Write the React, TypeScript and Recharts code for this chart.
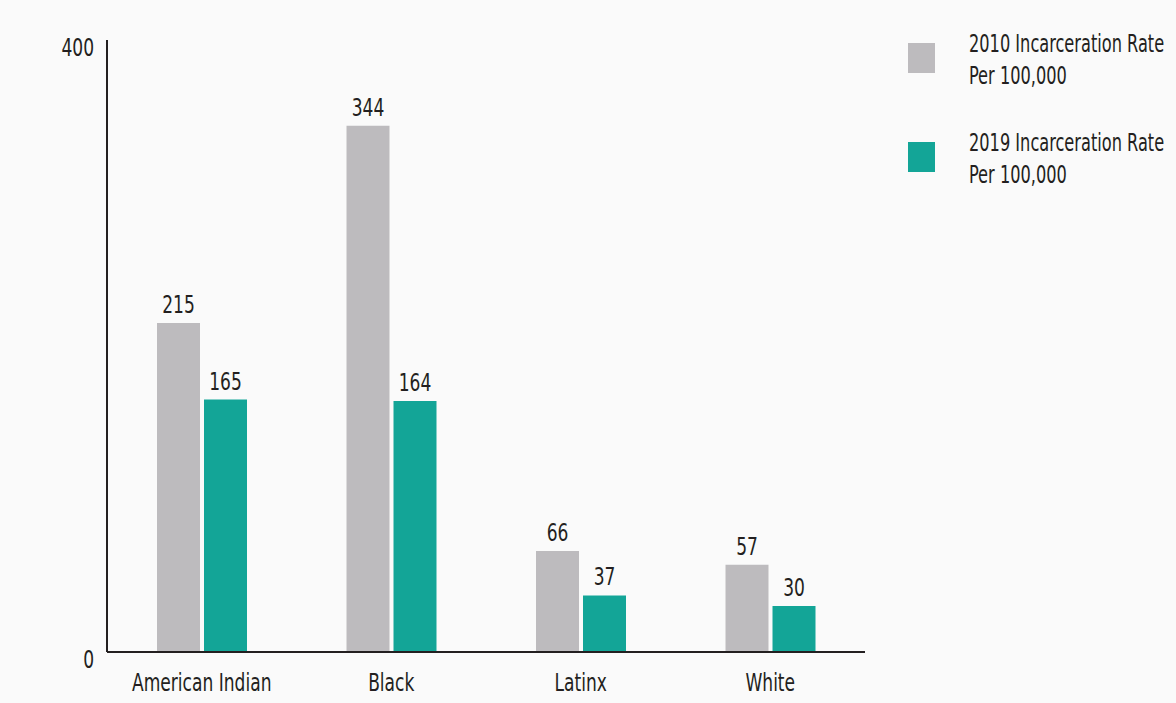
import { Bar, BarChart, LabelList, XAxis, YAxis } from 'recharts'

const categories = ['American Indian', 'Black', 'Latinx', 'White']
const rate2010 = [215, 344, 66, 57]
const rate2019 = [165, 164, 37, 30]
const yTicks = [0, 400]
const seriesNames = ['2010 Incarceration Rate', '2019 Incarceration Rate']

const FONT = '"DejaVu Sans Condensed", "Liberation Sans Narrow", sans-serif'
const SIZE = 25
const SQUEEZE = 0.76
const INK = '#231f20'
const GRAY = '#bdbbbe'
const TEAL = '#13a597'

const data = categories.map((c, i) => ({ name: c, y2010: rate2010[i], y2019: rate2019[i] }))

// narrow text, the original uses a condensed face
function Narrow({ x, y, anchor, dy, children }: any) {
  return (
    <g transform={`translate(${x},${y}) scale(${SQUEEZE},1)`}>
      <text x={0} y={0} dy={dy} textAnchor={anchor} fill={INK} fontSize={SIZE} fontFamily={FONT}>
        {children}
      </text>
    </g>
  )
}

function YTick({ x, y, payload }: any) {
  return <Narrow x={x} y={y + 7} anchor="end" dy="0.355em">{payload.value}</Narrow>
}

function XTick({ x, y, payload }: any) {
  return <Narrow x={x} y={y} anchor="middle" dy="0.71em">{payload.value}</Narrow>
}

function BarValue({ x, y, width, value }: any) {
  return <Narrow x={x + width / 2} y={y - 10} anchor="middle" dy={0}>{value}</Narrow>
}

function LegendBox() {
  const items = [
    { name: seriesNames[0], color: GRAY },
    { name: seriesNames[1], color: TEAL },
  ]
  return (
    <div style={{ position: 'absolute', left: 908, top: 28, fontFamily: FONT, fontSize: SIZE, color: INK }}>
      {items.map((it) => (
        <div key={it.name} style={{ position: 'relative', height: 99 }}>
          <div style={{ position: 'absolute', left: 0, top: 15, width: 27, height: 30, background: it.color }} />
          <div
            style={{
              position: 'absolute',
              left: 61,
              top: 0,
              lineHeight: '32px',
              whiteSpace: 'nowrap',
              transform: 'scaleX(0.72)',
              transformOrigin: 'left top',
            }}
          >
            {it.name}
            <br />
            Per 100,000
          </div>
        </div>
      ))}
    </div>
  )
}

export default function App() {
  return (
    <div style={{ position: 'fixed', left: 0, top: 0, width: 1176, height: 703, background: '#fafafa' }}>
      <BarChart
        width={1176}
        height={703}
        data={data}
        margin={{ top: 40, right: 311, bottom: 21, left: 27 }}
        barSize={43}
        barGap={4}
      >
        <XAxis
          dataKey="name"
          height={30}
          tickLine={false}
          tickSize={0}
          tickMargin={21}
          axisLine={{ stroke: INK, strokeWidth: 2 }}
          tick={<XTick />}
        />
        <YAxis
          width={80}
          domain={[0, 400]}
          ticks={yTicks}
          tickLine={false}
          tickSize={0}
          tickMargin={13}
          axisLine={{ stroke: INK, strokeWidth: 2 }}
          tick={<YTick />}
        />
        <Bar dataKey="y2010" name={seriesNames[0]} fill={GRAY} isAnimationActive={false}>
          <LabelList dataKey="y2010" content={<BarValue />} />
        </Bar>
        <Bar dataKey="y2019" name={seriesNames[1]} fill={TEAL} isAnimationActive={false}>
          <LabelList dataKey="y2019" content={<BarValue />} />
        </Bar>
      </BarChart>
      <LegendBox />
    </div>
  )
}
